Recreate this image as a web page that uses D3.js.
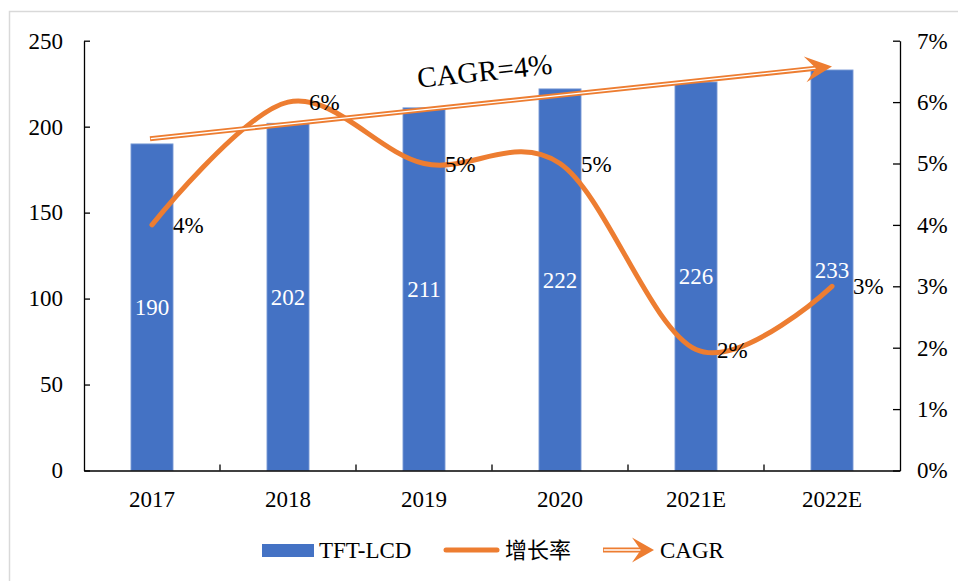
<!DOCTYPE html>
<html>
<head>
<meta charset="utf-8">
<script src="https://cdn.jsdelivr.net/npm/d3@7"></script>
<style>
  body { margin: 0; background: #fff; }
  svg { display: block; font-family: "Liberation Serif", "Times New Roman", serif; }
</style>
</head>
<body>
<div id="chart"></div>
<script>
// data
var years = ["2017", "2018", "2019", "2020", "2021E", "2022E"];
var shipments = [190, 202, 211, 222, 226, 233];
var growth = [4.0, 6.0, 5.0, 5.0, 1.97, 3.0];
var leftTicks = [0, 50, 100, 150, 200, 250];
var rightTicks = [0, 1, 2, 3, 4, 5, 6, 7];
var cagrFrom = ["2017", 193];
var cagrTo = ["2022E", 235];
var cagrLabel = "CAGR=4%";

var W = 958, H = 581;
var orange = "#ED7D31", blue = "#4472C4";

var svg = d3.select("#chart").append("svg")
    .attr("width", W)
    .attr("height", H);

// outer frame
svg.append("rect")
    .attr("x", 9.5).attr("y", 11.5)
    .attr("width", W + 20).attr("height", H + 20)
    .attr("fill", "none")
    .attr("stroke", "#d9d9d9")
    .attr("stroke-width", 1.5);

var x = d3.scaleBand()
    .domain(years)
    .range([84, 900])
    .paddingInner(0.69)
    .paddingOuter(0.345);
var y = d3.scaleLinear().domain([0, 250]).range([470.5, 40.7]);
var y2 = d3.scaleLinear().domain([0, 7]).range([470.5, 40.7]);

function cx(d) { return x(d) + x.bandwidth() / 2; }

// bars
svg.selectAll(".bar")
    .data(shipments)
  .enter().append("rect")
    .attr("class", "bar")
    .attr("x", function(d, i) { return x(years[i]); })
    .attr("width", x.bandwidth())
    .attr("y", function(d) { return y(d); })
    .attr("height", function(d) { return y(0) - y(d); })
    .attr("fill", blue)
    .attr("stroke", "#8eaadb")
    .attr("stroke-width", 0.8);

svg.selectAll(".barlabel")
    .data(shipments)
  .enter().append("text")
    .attr("x", function(d, i) { return cx(years[i]); })
    .attr("y", function(d) { return y(d / 2); })
    .attr("dy", "0.35em")
    .attr("text-anchor", "middle")
    .attr("fill", "#fff")
    .style("font-size", "23px")
    .text(function(d) { return d; });

// axes
var left = svg.append("g")
    .attr("transform", "translate(84,0)")
    .call(d3.axisLeft(y).tickValues(leftTicks).tickSizeInner(-6).tickSizeOuter(0).tickPadding(21));
var right = svg.append("g")
    .attr("transform", "translate(900,0)")
    .call(d3.axisRight(y2).tickValues(rightTicks).tickSizeInner(-7).tickSizeOuter(0).tickPadding(17)
      .tickFormat(function(d) { return d + "%"; }));
var bottom = svg.append("g")
    .attr("transform", "translate(0,470.5)")
    .call(d3.axisBottom(x).tickSize(0).tickPadding(20));

[left, right, bottom].forEach(function(g) {
  g.selectAll("path, line").attr("stroke", "#000").attr("stroke-width", 1.3);
  g.selectAll("text").attr("fill", "#000").style("font-size", "23px")
    .style("font-family", "'Liberation Serif', 'Times New Roman', serif");
});

// category separators on the x axis
bottom.selectAll(".sep")
    .data(years.slice(1))
  .enter().append("line")
    .attr("x1", function(d) { return x(d) - x.step() * x.paddingInner() / 2; })
    .attr("x2", function(d) { return x(d) - x.step() * x.paddingInner() / 2; })
    .attr("y1", 0).attr("y2", -6)
    .attr("stroke", "#000").attr("stroke-width", 1.3);

// growth line
var line = d3.line()
    .x(function(d, i) { return cx(years[i]); })
    .y(function(d) { return y2(d); })
    .curve(d3.curveCardinal.tension(0));

svg.append("path")
    .datum(growth)
    .attr("d", line)
    .attr("fill", "none")
    .attr("stroke", orange)
    .attr("stroke-width", 5)
    .attr("stroke-linecap", "round");

svg.selectAll(".glabel")
    .data(growth)
  .enter().append("text")
    .attr("x", function(d, i) { return cx(years[i]) + 21; })
    .attr("y", function(d) { return y2(d); })
    .attr("dy", "0.35em")
    .style("font-size", "23px")
    .text(function(d) { return Math.round(d) + "%"; });

// CAGR arrow
function arrow(g, x0, y0, x1, y1, len, half) {
  var ang = Math.atan2(y1 - y0, x1 - x0);
  var dist = Math.hypot(x1 - x0, y1 - y0);
  var a = g.append("g")
      .attr("transform", "translate(" + x0 + "," + y0 + ") rotate(" + (ang * 180 / Math.PI) + ")");
  a.append("line").attr("x1", 0).attr("y1", 0).attr("x2", dist - len * 0.6).attr("y2", 0)
      .attr("stroke", orange).attr("stroke-width", 5);
  a.append("line").attr("x1", 0.8).attr("y1", 0).attr("x2", dist - len * 0.6).attr("y2", 0)
      .attr("stroke", "#fff").attr("stroke-width", 1.3);
  a.append("path")
      .attr("d", "M" + dist + ",0 L" + (dist - len) + "," + (-half) +
                 " L" + (dist - len * 0.6) + ",0 L" + (dist - len) + "," + half + " Z")
      .attr("fill", orange);
  return ang;
}

var ax0 = cx(cagrFrom[0]) - 2, ay0 = y(cagrFrom[1]);
var ax1 = cx(cagrTo[0]), ay1 = y(cagrTo[1]);
var ang = arrow(svg, ax0, ay0, ax1, ay1, 27, 13);

svg.append("text")
    .attr("transform", "translate(" + ((ax0 + ax1) / 2 - 3) + "," + ((ay0 + ay1) / 2) + ") rotate(" + (ang * 180 / Math.PI) + ")")
    .attr("y", -22)
    .attr("text-anchor", "middle")
    .style("font-size", "29px")
    .text(cagrLabel);

// legend
var lg = svg.append("g");
lg.append("rect").attr("x", 262).attr("y", 544).attr("width", 52).attr("height", 13).attr("fill", blue);
lg.append("text").attr("x", 319).attr("y", 550).attr("dy", "0.35em")
    .style("font-size", "23px").text("TFT-LCD");
lg.append("line").attr("x1", 446).attr("x2", 497).attr("y1", 550).attr("y2", 550)
    .attr("stroke", orange).attr("stroke-width", 5).attr("stroke-linecap", "round");
lg.append("text").attr("x", 505).attr("y", 550).attr("dy", "0.35em")
    .style("font-size", "22px").style("font-family", "'Noto Sans CJK SC', sans-serif")
    .text("增长率");
arrow(lg, 603, 550, 654, 550, 22, 12.5);
lg.append("text").attr("x", 660).attr("y", 550).attr("dy", "0.35em")
    .style("font-size", "23px").text("CAGR");
</script>
</body>
</html>
